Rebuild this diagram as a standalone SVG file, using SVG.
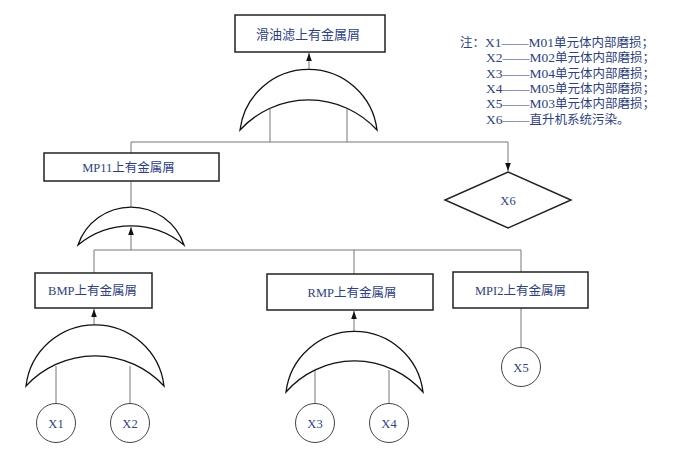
<svg xmlns="http://www.w3.org/2000/svg" width="681" height="454" viewBox="0 0 681 454">
<defs>
<style>
.box{fill:#fff;stroke:#222;stroke-width:1.5}
.gate{fill:#fff;stroke:#111;stroke-width:1.3}
.ev{fill:#fff;stroke:#444;stroke-width:1}
.con{fill:none;stroke:#777;stroke-width:1}
.lbl{font-family:"Liberation Serif","Noto Sans CJK SC",serif;font-size:12.5px;fill:#2f3f7f;text-anchor:middle}
.big{font-size:13px}
.ev-t{font-size:12.5px}
.note{font-family:"Liberation Serif","Noto Sans CJK SC",serif;font-size:12.5px;fill:#2f3f7f}
.lat{font-size:13.5px}
</style>
<marker id="arr" markerWidth="8" markerHeight="8" refX="8" refY="4" orient="auto" markerUnits="userSpaceOnUse">
<path d="M0,1.2 L8,4 L0,6.8 Z" fill="#111"/>
</marker>
</defs>
<rect width="681" height="454" fill="#fff"/>

<g id="connectors">
<line class="con" x1="309" y1="71" x2="309" y2="53" marker-end="url(#arr)"/>
<line class="con" x1="270" y1="109" x2="270" y2="142"/>
<line class="con" x1="347" y1="109" x2="347" y2="142"/>
<polyline class="con" points="131,153 131,142 508,142 508,171" marker-end="url(#arr)"/>
<line class="con" x1="131" y1="181" x2="131" y2="207"/>
<line class="con" x1="131" y1="250" x2="131" y2="227" marker-end="url(#arr)"/>
<polyline class="con" points="94,273 94,250 521,250 521,272"/>
<line class="con" x1="354" y1="250" x2="354" y2="274"/>
<line class="con" x1="94" y1="325" x2="94" y2="309" marker-end="url(#arr)"/>
<line class="con" x1="56" y1="366" x2="56" y2="404"/>
<line class="con" x1="130" y1="366" x2="130" y2="404"/>
<line class="con" x1="354" y1="331" x2="354" y2="311" marker-end="url(#arr)"/>
<line class="con" x1="315" y1="370" x2="315" y2="404"/>
<line class="con" x1="389" y1="370" x2="389" y2="404"/>
<line class="con" x1="521" y1="308" x2="521" y2="348"/>
</g>

<g id="top-event">
<rect class="box" x="235" y="15" width="150" height="37"/>
<text class="lbl big" x="308" y="38.5">滑油滤上有金属屑</text>
</g>
<g id="gate-top">
<path class="gate" d="M240,130 A69,69 0 0 1 377,130 A93,93 0 0 0 240,130 Z"/>
</g>

<g id="mp11">
<rect class="box" x="44" y="153" width="175" height="28"/>
<text class="lbl" x="128.5" y="171.5">MP11上有金属屑</text>
</g>
<g id="gate-mp11">
<path class="gate" d="M78,245 A56,56 0 0 1 184,245 A83,83 0 0 0 78,245 Z"/>
</g>

<g id="x6">
<polygon class="box" points="508,172 571,200 508,228 445,200"/>
<text class="lbl ev-t" x="508" y="204.5">X6</text>
</g>

<g id="bmp">
<rect class="box" x="35" y="273" width="117" height="35"/>
<text class="lbl" x="92.5" y="294.5">BMP上有金属屑</text>
</g>
<g id="gate-bmp">
<path class="gate" d="M26,386 A69.5,69.5 0 0 1 164,386 A94,94 0 0 0 26,386 Z"/>
</g>

<g id="rmp">
<rect class="box" x="267" y="274" width="166" height="36"/>
<text class="lbl" x="352" y="296.5">RMP上有金属屑</text>
</g>
<g id="gate-rmp">
<path class="gate" d="M286,392 A69,69 0 0 1 423,392 A91,91 0 0 0 286,392 Z"/>
</g>

<g id="mpi2">
<rect class="box" x="453" y="272" width="135" height="36"/>
<text class="lbl" x="520.5" y="294.5">MPI2上有金属屑</text>
</g>

<g id="x1"><circle class="ev" cx="56" cy="423" r="19.5"/><text class="lbl ev-t" x="56" y="427.5">X1</text></g>
<g id="x2"><circle class="ev" cx="130" cy="423" r="19.5"/><text class="lbl ev-t" x="130" y="427.5">X2</text></g>
<g id="x3"><circle class="ev" cx="315" cy="423" r="19.5"/><text class="lbl ev-t" x="315" y="427.5">X3</text></g>
<g id="x4"><circle class="ev" cx="389" cy="423" r="19.5"/><text class="lbl ev-t" x="389" y="427.5">X4</text></g>
<g id="x5"><circle class="ev" cx="521" cy="367" r="19.5"/><text class="lbl ev-t" x="521" y="371.5">X5</text></g>

<g id="note">
<text class="note" x="460" y="47">注：<tspan class="lat">X1——M01</tspan>单元体内部磨损；</text>
<text class="note" x="486" y="62"><tspan class="lat">X2——M02</tspan>单元体内部磨损；</text>
<text class="note" x="486" y="77.5"><tspan class="lat">X3——M04</tspan>单元体内部磨损；</text>
<text class="note" x="486" y="92.5"><tspan class="lat">X4——M05</tspan>单元体内部磨损；</text>
<text class="note" x="486" y="108"><tspan class="lat">X5——M03</tspan>单元体内部磨损；</text>
<text class="note" x="486" y="123.5"><tspan class="lat">X6——</tspan>直升机系统污染。</text>
</g>
</svg>
